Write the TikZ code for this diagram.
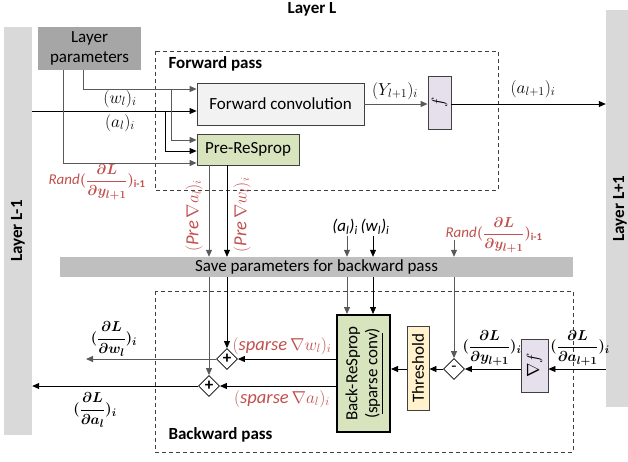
\documentclass[tikz,border=0pt]{standalone}
\usepackage{amsmath}
\usepackage{graphicx}
\usepackage{fontspec}
\setmainfont{Carlito}
\usetikzlibrary{arrows.meta, positioning, shapes.geometric}

% Farben
\definecolor{barcol}{HTML}{D9D9D9}
\definecolor{paramcol}{HTML}{A6A6A6}
\definecolor{savecol}{HTML}{BFBFBF}
\definecolor{convcol}{HTML}{F2F2F2}
\definecolor{greencol}{HTML}{D7E4BD}
\definecolor{lilacol}{HTML}{E6E0EC}
\definecolor{yellowcol}{HTML}{FFF2CC}
\definecolor{darkline}{HTML}{404040}
\definecolor{greyline}{HTML}{595959}
\definecolor{randred}{HTML}{C0504D}

\newcommand{\pgrad}[1]{{\boldmath$(\dfrac{\partial L}{\partial #1})_i$}}
\newcommand{\randgrad}{{\color{randred}$\mathit{Rand}${\boldmath$(\dfrac{\partial L}{\partial y_{l+1}})_{\text{\bfseries i-1}}$}}}
\newcommand{\itsub}[3]{\textit{(#1\textsubscript{#2})\textsubscript{#3}}}

\begin{document}
\begin{tikzpicture}[x=1pt, y=-1pt, font=\fontsize{17}{20}\selectfont,
    box/.style={draw=darkline, line width=0.8pt, inner sep=0pt, align=center},
    bar/.style={fill=barcol, inner sep=0pt},
    frame/.style={draw=darkline, line width=0.8pt, dash pattern=on 4pt off 3pt},
    heading/.style={font=\fontsize{17}{20}\selectfont\bfseries},
    arr/.style={-{Triangle[length=7pt,width=6pt]}},
    bline/.style={draw=black, line width=0.8pt},
    gline/.style={draw=greyline, line width=1pt},
    sumnode/.style={diamond, draw, fill=white, line width=0.8pt, inner sep=0pt, minimum width=21pt, minimum height=21pt},
    glab/.style={font=\fontsize{15}{18}\selectfont, inner sep=1pt},
    redlab/.style={text=randred, inner sep=1pt, font=\fontsize{18.5}{22}\selectfont}]

    \useasboundingbox (0,0) rectangle (628,461);

    % Nachbarschichten und Titel
    \node[heading, anchor=base] (title) at (312,13) {Layer L};
    \node[bar, minimum width=28, minimum height=408] (prev) at (18,231) {\rotatebox{90}{\bfseries Layer L-1}};
    \node[bar, minimum width=28, minimum height=397] (next) at (620,208.5) {\rotatebox{90}{\bfseries Layer L+1}};
    \node[fill=paramcol, inner sep=0pt, align=center, minimum width=103, minimum height=43] (params) at (89.5,48.5) {Layer\\parameters};

    % 1. Forward pass
    \draw[frame] (155,51) rectangle (498,190);
    \node[heading, anchor=west] (fwdlab) at (165,64) {Forward pass};
    \node[box, fill=convcol, minimum width=167, minimum height=42] (conv) at (280.5,104) {Forward convolution};
    \node[box, fill=greencol, minimum width=102, minimum height=31] (pre) at (248,149.5) {Pre-ReSprop};
    \node[box, fill=lilacol, minimum width=23, minimum height=53] (fbox) at (439.5,102.5) {\rotatebox{90}{$f$}};

    \draw[bline, arr] (prev.east |- 0,111) -- (conv.west |- 0,111);
    \node (wlab) at (120,99) {$(w_l)_i$};
    \node (alab) at (120,123) {$(a_l)_i$};
    \draw[gline, arr] (params.south -| 83,0) |- (conv.west |- 0,89);
    \draw[gline, arr] (171,89) |- (pre.west |- 0,140);
    \draw[bline, arr] (165,111) |- (pre.west |- 0,151);
    \draw[gline, arr] (params.south -| 63,0) |- (pre.west |- 0,163);
    \node[glab] (randpre) at (97,182) {\randgrad};

    \draw[gline, arr] (conv.east) -- (fbox.west |- conv.east);
    \node (ylab) at (395,91) {$(Y_{l+1})_i$};
    \draw[bline, arr] (fbox.east |- conv.east) -- (next.west |- conv.east);
    \node (anext) at (533,89) {$(a_{l+1})_i$};

    % 2. Zwischenspeicher
    \node[fill=savecol, inner sep=0pt, minimum width=513, minimum height=20] (save) at (316.5,267) {Save parameters for backward pass};
    \draw[gline, arr] (pre.south -| 209,0) -- (save.north -| 209,0);
    \draw[bline, arr] (pre.south -| 227,0) -- (save.north -| 227,0);
    \node[redlab] (prea) at (194,216) {\rotatebox{90}{$(\mathit{Pre}\,\nabla a_l)_i$}};
    \node[redlab] (prew) at (242,215) {\rotatebox{90}{$(\mathit{Pre}\,\nabla w_l)_i$}};

    \node[inner sep=1pt] (asave) at (345,227) {\itsub{a}{l}{i}};
    \node[inner sep=1pt] (wsave) at (375,227) {\itsub{w}{l}{i}};
    \node[glab] (randsave) at (494,235) {\randgrad};
    \coordinate (randtop) at (454,240);
    \draw[gline, arr] (asave.south -| 347,0) -- (save.north -| 347,0);
    \draw[bline, arr] (wsave.south -| 373,0) -- (save.north -| 373,0);
    \draw[gline, arr] (randtop) -- (save.north -| randtop);

    % 3. Backward pass
    \draw[frame] (155,291) rectangle (573,452);
    \node[heading, anchor=west] (bwdlab) at (165,435) {Backward pass};
    \node[box, fill=greencol, line width=2pt, draw=black, minimum width=53, minimum height=117] (back) at (363.5,373.5)
        {\rotatebox{90}{\begin{tabular}{@{}c@{}}Back-ReSprop\\(\underline{sparse conv})\end{tabular}}};
    \node[box, fill=yellowcol, minimum width=22, minimum height=84] (thr) at (418,368) {\rotatebox{90}{Threshold}};
    \node[sumnode] (minus) at (454,369) {-};
    \node[box, fill=lilacol, minimum width=27, minimum height=53] (gradf) at (534.5,365.5) {\rotatebox{90}{$\nabla f$}};
    \node[sumnode] (plusw) at (227,359) {\textbf{+}};
    \node[sumnode] (plusa) at (209,386) {\textbf{+}};

    \draw[gline, arr] (save.south -| 209,0) -- (plusa.north);
    \draw[bline, arr] (save.south -| 227,0) -- (plusw.north);
    \draw[gline, arr] (save.south -| 347,0) -- (back.north -| 347,0);
    \draw[bline, arr] (save.south -| 373,0) -- (back.north -| 373,0);
    \draw[gline, arr] (save.south -| randtop) -- (minus.north);

    \draw[bline, arr] (next.west |- minus) -- (gradf.east |- minus);
    \draw[bline, arr] (gradf.west |- minus) -- (minus.east);
    \draw[bline, arr] (minus.west) -- (thr.east |- minus);
    \draw[bline, arr] (thr.west |- minus) -- (back.east |- minus);
    \node[glab] (dan) at (580,348) {\pgrad{a_{l+1}}};
    \node[glab] (dyn) at (492,348) {\pgrad{y_{l+1}}};

    \draw[bline, arr] (back.west |- plusw) -- (plusw.east);
    \draw[bline, arr] (back.west |- plusa) -- (plusa.east);
    \node[redlab] (spw) at (282,346) {$(\mathit{sparse}\,\nabla w_l)_i$};
    \node[redlab] (spa) at (282,399) {$(\mathit{sparse}\,\nabla a_l)_i$};

    \coordinate (dwend) at (86,359);
    \draw[gline, arr] (plusw.west) -- (dwend);
    \draw[bline, arr] (plusa.west) -- (prev.east |- plusa);
    \node[glab] (dw) at (114,339) {\pgrad{w_l}};
    \node[glab] (da) at (95,410) {\pgrad{a_l}};

\end{tikzpicture}
\end{document}
